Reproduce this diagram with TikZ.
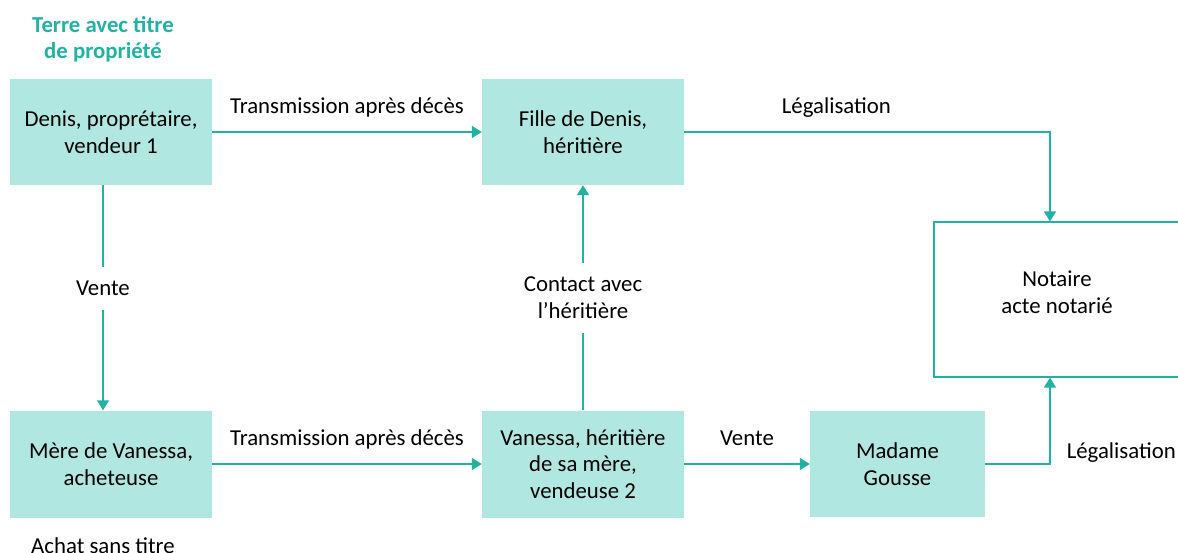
\documentclass[tikz,border=0pt]{standalone}
\usepackage{fontspec}
\setmainfont{Carlito}
\usetikzlibrary{arrows.meta,positioning}
\definecolor{lineteal}{RGB}{34,178,164}
\definecolor{boxteal}{RGB}{176,232,225}
\begin{document}
\begin{tikzpicture}[x=1pt,y=-1pt,>={Triangle[width=12pt,length=10pt]},
  every node/.style={font=\fontsize{22.8}{27}\selectfont},
  box/.style={fill=boxteal,align=center,minimum width=202pt,minimum height=106pt,inner sep=0pt,font=\fontsize{22.8}{26.5}\selectfont},
  lbl/.style={text=black,inner sep=2pt,text depth=5pt},
  gap/.style={text=black,fill=white,align=center,inner xsep=3pt,inner ysep=14pt},
  link/.style={color=lineteal,line width=1.6pt}]
  \useasboundingbox (0,0) rectangle (1178,553);
  \node[text=lineteal,font=\fontsize{22.8}{26}\selectfont\bfseries,align=center] (titre) at (103,39) {Terre avec titre\\de propriété};
  \node[box] (denis) at (111,132) {Denis, proprétaire,\\vendeur 1};
  \node[box] (fille) at (583,132) {Fille de Denis,\\héritière};
  \node[box,minimum height=107pt] (mere) at (111,464) {Mère de Vanessa,\\acheteuse};
  \node[box,minimum height=107pt] (vanessa) at (583,464) {Vanessa, héritière\\de sa mère,\\vendeuse 2};
  \node[box,minimum width=175pt] (gousse) at (897.5,464) {Madame\\Gousse};
  \node[draw=lineteal,line width=1.2pt,fill=white,minimum width=246pt,minimum height=155pt] (notaire) at (1057,299.5) {};
  \node[align=center] (notairetxt) at ([yshift=7pt]notaire.center) {Notaire\\acte notarié};
  \node (achat) at (103,546) {Achat sans titre};
  \path[link,->] (denis) edge node[lbl,above=11pt] {Transmission après décès} (fille);
  \path[link,->] (mere) edge node[lbl,above=11pt] {Transmission après décès} (vanessa);
  \path[link,->] (vanessa) edge node[lbl,above=11pt] {Vente} (gousse);
  \path[link,->] ([xshift=-8pt]denis.south) edge node[gap,pos=0.46] {Vente} ([xshift=-8pt]mere.north);
  \path[link,->] (vanessa) edge node[gap,pos=0.5] {Contact avec\\l’héritière} (fille);
  \draw[link,->] (fille.east) -| ([xshift=-7pt]notaire.north) node[lbl,pos=0.208,above=11pt] {Légalisation};
  \draw[link,->] (gousse.east) -| ([xshift=-7pt]notaire.south) node[lbl,pos=0.564,right=14pt] {Légalisation};
\end{tikzpicture}
\end{document}
